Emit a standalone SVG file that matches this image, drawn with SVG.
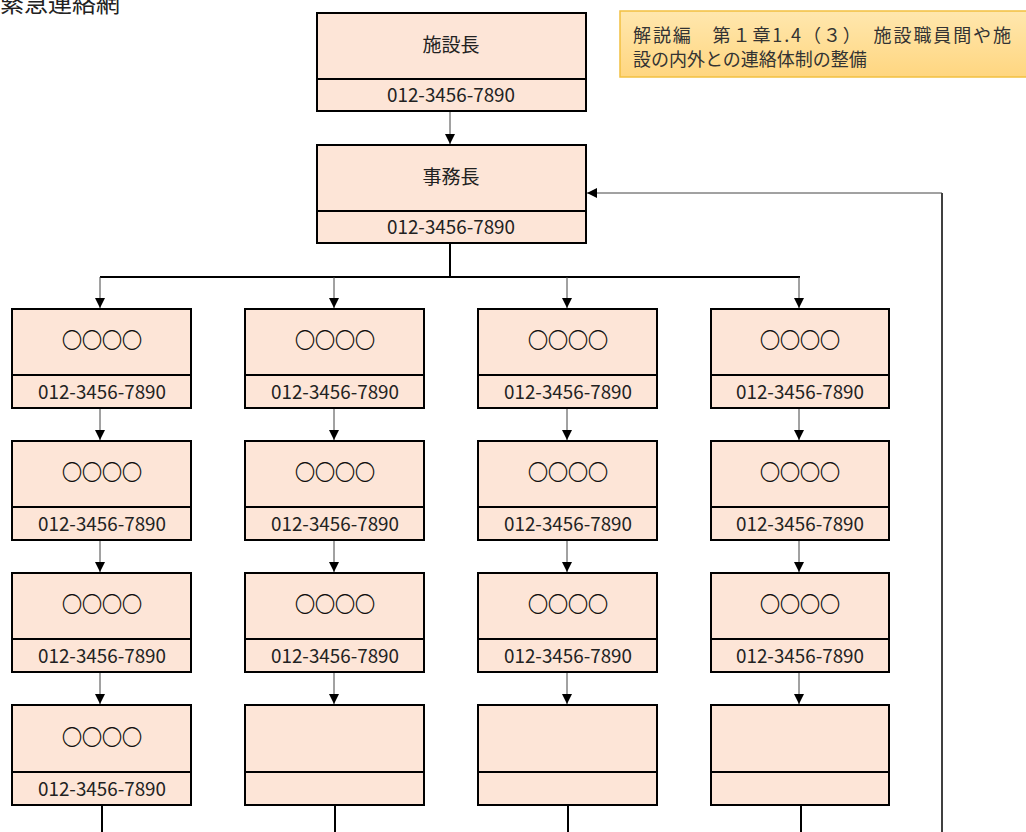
<svg xmlns="http://www.w3.org/2000/svg" width="1026" height="832" viewBox="0 0 1026 832">
<defs>
<linearGradient id="ng" x1="0" y1="0" x2="0" y2="1">
<stop offset="0" stop-color="#FFE7AE"/>
<stop offset="1" stop-color="#FFD680"/>
</linearGradient>
<marker id="ah" viewBox="0 0 10 10" refX="10" refY="5" markerWidth="10" markerHeight="10" markerUnits="userSpaceOnUse" orient="auto">
<path d="M0,0 L10,5 L0,10 Z" fill="#000"/>
</marker>
</defs>
<style>
.box{fill:#FDE5D7;stroke:#000;stroke-width:2}
.div{stroke:#000;stroke-width:2}
.name{font-family:"Noto Sans CJK JP","Noto Sans",sans-serif;font-size:19px;fill:#222;text-anchor:middle}
.circ{font-family:"Noto Sans CJK JP",sans-serif;font-size:20px;fill:#000;stroke:#000;stroke-width:0.3;text-anchor:middle}
.tel{font-family:"Noto Sans CJK JP","Liberation Sans",sans-serif;font-size:19px;fill:#222;text-anchor:middle}
.arr{stroke:#444;stroke-width:1;fill:none;marker-end:url(#ah)}
.ln{stroke:#000;stroke-width:2;fill:none}
.note{font-family:"Noto Sans CJK JP","Noto Sans",sans-serif;font-size:18px;fill:#333}
</style>
<text x="0" y="12" font-family="'Noto Sans CJK JP',sans-serif" font-size="24" fill="#222">緊急連絡網</text>
<g id="note">
<rect x="620" y="11" width="410" height="66" fill="url(#ng)" stroke="#F2C040" stroke-width="1.5"/>
<text class="note" x="633" y="42" textLength="378" lengthAdjust="spacing">解説編　第１章1.4（３）　施設職員間や施</text>
<text class="note" x="633" y="66">設の内外との連絡体制の整備</text>
</g>
<g id="connectors">
<line class="arr" x1="450" y1="111" x2="450" y2="144"/>
<line class="ln" x1="450" y1="243" x2="450" y2="277"/>
<line class="ln" x1="100" y1="277" x2="800" y2="277"/>
<line class="arr" x1="100" y1="277" x2="100" y2="308"/>
<line class="arr" x1="334" y1="277" x2="334" y2="308"/>
<line class="arr" x1="567" y1="277" x2="567" y2="308"/>
<line class="arr" x1="799" y1="277" x2="799" y2="308"/>
<line class="arr" x1="100" y1="408" x2="100" y2="440"/>
<line class="arr" x1="334" y1="408" x2="334" y2="440"/>
<line class="arr" x1="567" y1="408" x2="567" y2="440"/>
<line class="arr" x1="799" y1="408" x2="799" y2="440"/>
<line class="arr" x1="100" y1="540" x2="100" y2="572"/>
<line class="arr" x1="334" y1="540" x2="334" y2="572"/>
<line class="arr" x1="567" y1="540" x2="567" y2="572"/>
<line class="arr" x1="799" y1="540" x2="799" y2="572"/>
<line class="arr" x1="100" y1="672" x2="100" y2="704"/>
<line class="arr" x1="334" y1="672" x2="334" y2="704"/>
<line class="arr" x1="567" y1="672" x2="567" y2="704"/>
<line class="arr" x1="799" y1="672" x2="799" y2="704"/>
<line class="ln" x1="102" y1="805" x2="102" y2="832"/>
<line class="ln" x1="335" y1="805" x2="335" y2="832"/>
<line class="ln" x1="568" y1="805" x2="568" y2="832"/>
<line class="ln" x1="801" y1="805" x2="801" y2="832"/>
<line stroke="#000" stroke-width="1.5" x1="942" y1="193" x2="942" y2="832"/>
<line class="arr" x1="942" y1="193" x2="587" y2="193"/>
</g>
<g id="n-shisetsucho">
<rect class="box" x="317" y="13" width="269" height="98"/>
<line class="div" x1="317" y1="79" x2="586" y2="79"/>
<text class="name" x="451" y="52">施設長</text>
<text class="tel" x="451" y="102" textLength="128" lengthAdjust="spacingAndGlyphs">012-3456-7890</text>
</g>
<g id="n-jimucho">
<rect class="box" x="317" y="145" width="269" height="98"/>
<line class="div" x1="317" y1="211" x2="586" y2="211"/>
<text class="name" x="451" y="184">事務長</text>
<text class="tel" x="451" y="234" textLength="128" lengthAdjust="spacingAndGlyphs">012-3456-7890</text>
</g>
<g id="c1r1"><rect class="box" x="12" y="309" width="179" height="99"/><line class="div" x1="12" y1="375" x2="191" y2="375"/><text class="circ" x="102" y="348">○○○○</text><text class="tel" x="102" y="399" textLength="128" lengthAdjust="spacingAndGlyphs">012-3456-7890</text></g>
<g id="c2r1"><rect class="box" x="245" y="309" width="179" height="99"/><line class="div" x1="245" y1="375" x2="424" y2="375"/><text class="circ" x="335" y="348">○○○○</text><text class="tel" x="335" y="399" textLength="128" lengthAdjust="spacingAndGlyphs">012-3456-7890</text></g>
<g id="c3r1"><rect class="box" x="478" y="309" width="179" height="99"/><line class="div" x1="478" y1="375" x2="657" y2="375"/><text class="circ" x="568" y="348">○○○○</text><text class="tel" x="568" y="399" textLength="128" lengthAdjust="spacingAndGlyphs">012-3456-7890</text></g>
<g id="c4r1"><rect class="box" x="711" y="309" width="178" height="99"/><line class="div" x1="711" y1="375" x2="889" y2="375"/><text class="circ" x="800" y="348">○○○○</text><text class="tel" x="800" y="399" textLength="128" lengthAdjust="spacingAndGlyphs">012-3456-7890</text></g>
<g id="c1r2"><rect class="box" x="12" y="441" width="179" height="99"/><line class="div" x1="12" y1="507" x2="191" y2="507"/><text class="circ" x="102" y="480">○○○○</text><text class="tel" x="102" y="531" textLength="128" lengthAdjust="spacingAndGlyphs">012-3456-7890</text></g>
<g id="c2r2"><rect class="box" x="245" y="441" width="179" height="99"/><line class="div" x1="245" y1="507" x2="424" y2="507"/><text class="circ" x="335" y="480">○○○○</text><text class="tel" x="335" y="531" textLength="128" lengthAdjust="spacingAndGlyphs">012-3456-7890</text></g>
<g id="c3r2"><rect class="box" x="478" y="441" width="179" height="99"/><line class="div" x1="478" y1="507" x2="657" y2="507"/><text class="circ" x="568" y="480">○○○○</text><text class="tel" x="568" y="531" textLength="128" lengthAdjust="spacingAndGlyphs">012-3456-7890</text></g>
<g id="c4r2"><rect class="box" x="711" y="441" width="178" height="99"/><line class="div" x1="711" y1="507" x2="889" y2="507"/><text class="circ" x="800" y="480">○○○○</text><text class="tel" x="800" y="531" textLength="128" lengthAdjust="spacingAndGlyphs">012-3456-7890</text></g>
<g id="c1r3"><rect class="box" x="12" y="573" width="179" height="99"/><line class="div" x1="12" y1="639" x2="191" y2="639"/><text class="circ" x="102" y="612">○○○○</text><text class="tel" x="102" y="663" textLength="128" lengthAdjust="spacingAndGlyphs">012-3456-7890</text></g>
<g id="c2r3"><rect class="box" x="245" y="573" width="179" height="99"/><line class="div" x1="245" y1="639" x2="424" y2="639"/><text class="circ" x="335" y="612">○○○○</text><text class="tel" x="335" y="663" textLength="128" lengthAdjust="spacingAndGlyphs">012-3456-7890</text></g>
<g id="c3r3"><rect class="box" x="478" y="573" width="179" height="99"/><line class="div" x1="478" y1="639" x2="657" y2="639"/><text class="circ" x="568" y="612">○○○○</text><text class="tel" x="568" y="663" textLength="128" lengthAdjust="spacingAndGlyphs">012-3456-7890</text></g>
<g id="c4r3"><rect class="box" x="711" y="573" width="178" height="99"/><line class="div" x1="711" y1="639" x2="889" y2="639"/><text class="circ" x="800" y="612">○○○○</text><text class="tel" x="800" y="663" textLength="128" lengthAdjust="spacingAndGlyphs">012-3456-7890</text></g>
<g id="c1r4"><rect class="box" x="12" y="705" width="179" height="100"/><line class="div" x1="12" y1="772" x2="191" y2="772"/><text class="circ" x="102" y="745">○○○○</text><text class="tel" x="102" y="796" textLength="128" lengthAdjust="spacingAndGlyphs">012-3456-7890</text></g>
<g id="c2r4"><rect class="box" x="245" y="705" width="179" height="100"/><line class="div" x1="245" y1="772" x2="424" y2="772"/></g>
<g id="c3r4"><rect class="box" x="478" y="705" width="179" height="100"/><line class="div" x1="478" y1="772" x2="657" y2="772"/></g>
<g id="c4r4"><rect class="box" x="711" y="705" width="178" height="100"/><line class="div" x1="711" y1="772" x2="889" y2="772"/></g>
</svg>
